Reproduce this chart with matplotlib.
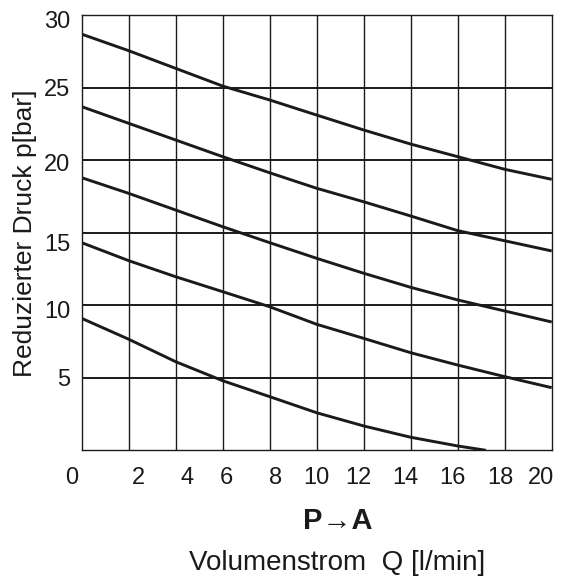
import matplotlib
matplotlib.use("Agg")
import matplotlib.pyplot as plt
import matplotlib.transforms as mtransforms

plt.rcParams['font.family'] = ['Liberation Sans', 'DejaVu Sans']

# Data (flow Q in l/min, reduced pressure p in bar)
q = [0, 2, 4, 6, 8, 10, 12, 14, 16, 18, 20]
p_curve1 = [28.7, 27.56, 26.34, 25.12, 24.16, 23.12, 22.09, 21.12, 20.25, 19.38, 18.69]
p_curve2 = [23.70, 22.55, 21.40, 20.25, 19.14, 18.07, 17.14, 16.16, 15.15, 14.45, 13.75]
p_curve3 = [18.80, 17.72, 16.57, 15.42, 14.32, 13.24, 12.21, 11.24, 10.37, 9.61, 8.85]
p_curve4 = [14.32, 13.08, 11.97, 10.94, 9.90, 8.69, 7.72, 6.73, 5.88, 5.08, 4.32]
q_curve5 = [0, 2, 4, 6, 8, 10, 12, 14, 16, 17.2]
p_curve5 = [9.10, 7.66, 6.11, 4.80, 3.70, 2.59, 1.68, 0.90, 0.30, 0.0]

x_ticks = [0, 2, 4, 6, 8, 10, 12, 14, 16, 18, 20]
x_ticklabels = ['0', '2', '4', '6', '8', '10', '12', '14', '16', '18', '20']
y_ticks = [5, 10, 15, 20, 25, 30]
y_ticklabels = ['5', '10', '15', '20', '25', '30']

fig = plt.figure(figsize=(5.62, 5.78), dpi=100)
ax = fig.add_axes([0.1454, 0.2209, 0.8363, 0.7526])
ax.set_xlim(0, 20)
ax.set_ylim(0, 30)

# grid
for xv in x_ticks[1:-1]:
    ax.axvline(xv, color='#1a1a1a', lw=1.0, zorder=1)
for yv in y_ticks[:-1]:
    ax.axhline(yv, color='#1a1a1a', lw=1.4, zorder=1)

for xs, ys in [(q, p_curve1), (q, p_curve2), (q, p_curve3), (q, p_curve4), (q_curve5, p_curve5)]:
    ax.plot(xs, ys, color='#1a1a1a', lw=2.1, solid_capstyle='butt',
            solid_joinstyle='round', zorder=3)

for s in ax.spines.values():
    s.set_linewidth(1.0)
    s.set_color('#1a1a1a')

ax.set_xticks(x_ticks)
ax.set_xticklabels(x_ticklabels, fontsize=17, color='#1a1a1a')
ax.set_yticks(y_ticks)
ax.set_yticklabels(y_ticklabels, fontsize=17, color='#1a1a1a')
ax.tick_params(axis='both', length=0)
ax.tick_params(axis='x', pad=12)
ax.tick_params(axis='y', pad=8)

# label offsets (pixels) as in the reference
x_shift = [-10, 10, 11, 4, 6, 0, -5, -5, -5, -4.5, -11]
for lab, dx in zip(ax.get_xticklabels(), x_shift):
    off = mtransforms.ScaledTranslation(dx / 100.0, 0, fig.dpi_scale_trans)
    lab.set_transform(lab.get_transform() + off)
y_shift = [0, -4, -9.5, -2, 0, -4]
for lab, dy in zip(ax.get_yticklabels(), y_shift):
    off = mtransforms.ScaledTranslation(0, dy / 100.0, fig.dpi_scale_trans)
    lab.set_transform(lab.get_transform() + off)

ax.set_ylabel('Reduzierter Druck p[bar]', fontsize=19, color='#1a1a1a', labelpad=5)

fig.text(0.601, 1 - 521 / 578, 'P\u2192A', fontsize=21, fontweight='bold',
         ha='center', va='center', color='#1a1a1a')
fig.text(0.600, 1 - 563 / 578, 'Volumenstrom  Q [l/min]', fontsize=20,
         ha='center', va='center', color='#1a1a1a')

fig.savefig('out.png', dpi=100)
